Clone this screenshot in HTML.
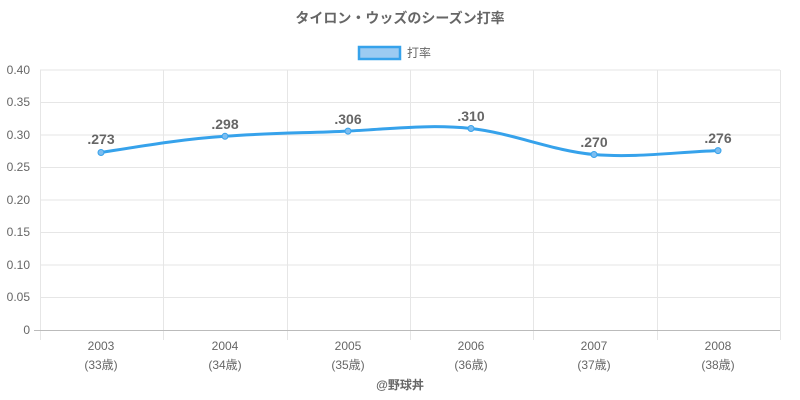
<!DOCTYPE html>
<html><head><meta charset="utf-8"><style>
body{margin:0;background:#fff;}
svg{display:block;font-family:"Liberation Sans","Noto Sans CJK JP",sans-serif;}
</style></head><body>
<svg width="800" height="400" viewBox="0 0 800 400">
<text x="400" y="23" text-anchor="middle" font-size="14" font-weight="bold" fill="#666">タイロン・ウッズのシーズン打率</text>
<rect x="359" y="47" width="41" height="12" fill="#9ccbf2" stroke="#36a2eb" stroke-width="2.5"/>
<text x="407" y="57" font-size="12" fill="#666">打率</text>
<g stroke="#e6e6e6" stroke-width="1">
<line x1="40" y1="70" x2="780" y2="70"/><line x1="40" y1="102.5" x2="780" y2="102.5"/>
<line x1="40" y1="135" x2="780" y2="135"/><line x1="40" y1="167.5" x2="780" y2="167.5"/>
<line x1="40" y1="200" x2="780" y2="200"/><line x1="40" y1="232.5" x2="780" y2="232.5"/>
<line x1="40" y1="265" x2="780" y2="265"/><line x1="40" y1="297.5" x2="780" y2="297.5"/>
<line x1="40.5" y1="70" x2="40.5" y2="340"/><line x1="163.5" y1="70" x2="163.5" y2="340"/>
<line x1="287.5" y1="70" x2="287.5" y2="340"/><line x1="410.5" y1="70" x2="410.5" y2="340"/>
<line x1="533.5" y1="70" x2="533.5" y2="340"/><line x1="657.5" y1="70" x2="657.5" y2="340"/>
<line x1="780.5" y1="70" x2="780.5" y2="340"/>
</g>
<line x1="34" y1="330.5" x2="780" y2="330.5" stroke="#bbb"/>
<g font-size="12" fill="#666" text-anchor="end">
<text x="30" y="74">0.40</text><text x="30" y="106">0.35</text><text x="30" y="139">0.30</text>
<text x="30" y="171">0.25</text><text x="30" y="204">0.20</text><text x="30" y="236">0.15</text>
<text x="30" y="269">0.10</text><text x="30" y="301">0.05</text><text x="30" y="334">0</text>
</g>
<g font-size="12" fill="#666" text-anchor="middle">
<text x="101" y="350">2003</text><text x="101" y="369">(33歳)</text>
<text x="225" y="350">2004</text><text x="225" y="369">(34歳)</text>
<text x="348" y="350">2005</text><text x="348" y="369">(35歳)</text>
<text x="471" y="350">2006</text><text x="471" y="369">(36歳)</text>
<text x="594" y="350">2007</text><text x="594" y="369">(37歳)</text>
<text x="718" y="350">2008</text><text x="718" y="369">(38歳)</text>
</g>
<path d="M101,152.5 C142,146 183,139 225,136.3 C266,133 307,133 348,131.1 C389,129 430,124 471,128.5 C512,133 553,151 594,154.5 C635,158 677,152 718,150.6" fill="none" stroke="#36a2eb" stroke-width="3"/>
<g fill="#7cbdf0" stroke="#36a2eb" stroke-width="1">
<circle cx="101" cy="152.5" r="3"/><circle cx="225" cy="136.3" r="3"/><circle cx="348" cy="131.1" r="3"/>
<circle cx="471" cy="128.5" r="3"/><circle cx="594" cy="154.5" r="3"/><circle cx="718" cy="150.6" r="3"/>
</g>
<g font-size="14" font-weight="bold" fill="#666" text-anchor="middle">
<text x="101" y="144">.273</text><text x="225" y="129">.298</text><text x="348" y="124">.306</text>
<text x="471" y="121">.310</text><text x="594" y="147">.270</text><text x="718" y="143">.276</text>
</g>
<text x="400" y="389" text-anchor="middle" font-size="12" font-weight="bold" fill="#666">@野球丼</text>
</svg>
</body></html>
